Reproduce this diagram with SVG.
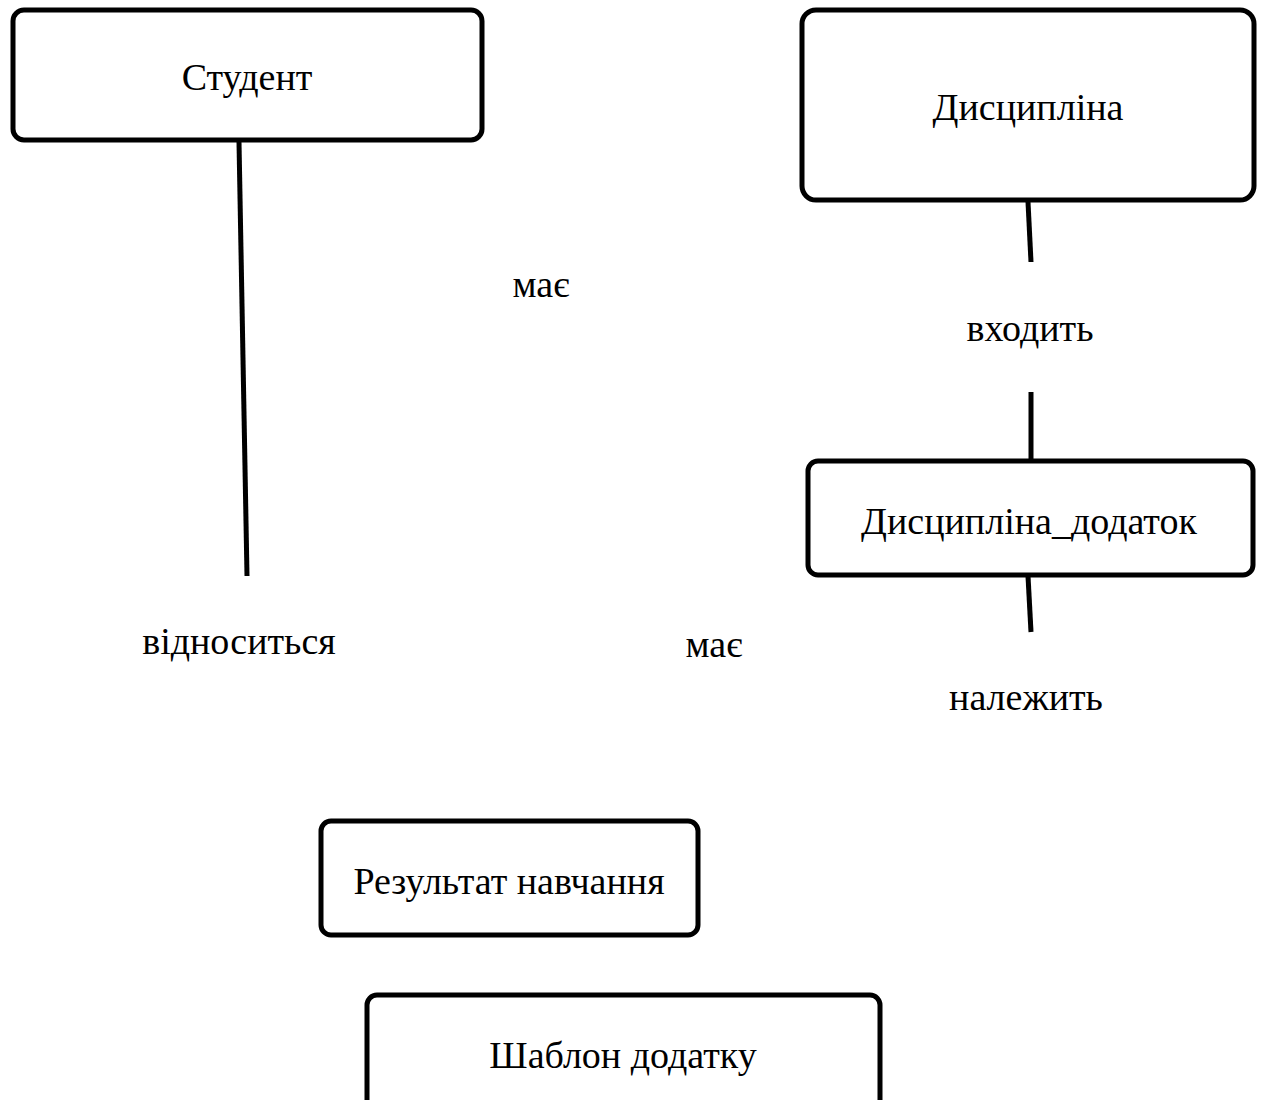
<svg xmlns="http://www.w3.org/2000/svg" width="1262" height="1100" viewBox="0 0 1262 1100">
<style>
.box{fill:#fff;stroke:#000;stroke-width:5}
.t{font-family:"Liberation Serif","Times New Roman",serif;font-size:38px;fill:#000;text-anchor:middle}
.c{stroke:#000;stroke-width:5;fill:none}
</style>
<rect width="1262" height="1100" fill="#fff"/>
<g id="connectors">
<line class="c" x1="239" y1="142" x2="247" y2="576"/>
<line class="c" x1="1028" y1="202" x2="1031" y2="262"/>
<line class="c" x1="1031" y1="392" x2="1031" y2="460"/>
<line class="c" x1="1028" y1="576" x2="1031" y2="632"/>
</g>
<g id="student"><rect class="box" x="13" y="10" width="469" height="130" rx="11"/><text class="t" x="247" y="90">Студент</text></g>
<g id="dyscyplina"><rect class="box" x="802" y="10" width="452" height="190" rx="14"/><text class="t" x="1028" y="120">Дисципліна</text></g>
<g id="dyscyplina_dodatok"><rect class="box" x="808" y="461" width="445" height="114" rx="10"/><text class="t" x="1029" y="534">Дисципліна_додаток</text></g>
<g id="rezultat"><rect class="box" x="321" y="821" width="377" height="114" rx="10"/><text class="t" x="509" y="894">Результат навчання</text></g>
<g id="shablon"><rect class="box" x="367" y="995" width="513" height="120" rx="10"/><text class="t" x="623" y="1068">Шаблон додатку</text></g>
<g id="labels">
<text class="t" x="541" y="297">має</text>
<text class="t" x="1030" y="341">входить</text>
<text class="t" x="239" y="654">відноситься</text>
<text class="t" x="714" y="657">має</text>
<text class="t" x="1026" y="710">належить</text>
</g>
</svg>
